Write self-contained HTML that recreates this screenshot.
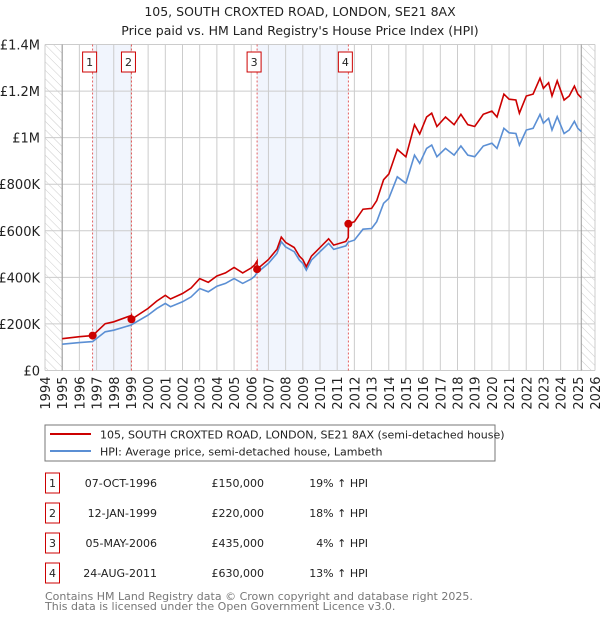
<!DOCTYPE html>
<html><head><meta charset="utf-8"><style>
body{margin:0;background:#fff;font-family:"DejaVu Sans","Liberation Sans",sans-serif;}
</style></head><body>
<svg id="chart" width="600" height="620" xmlns="http://www.w3.org/2000/svg" font-family="DejaVu Sans, Liberation Sans, sans-serif">
<defs><pattern id="hatch" width="6" height="6" patternUnits="userSpaceOnUse" patternTransform="rotate(-45)"><line x1="0" y1="0" x2="0" y2="6" stroke="#ccc" stroke-width="1"/></pattern></defs>
<text x="300" y="16" text-anchor="middle" font-size="12.5" fill="#222">105, SOUTH CROXTED ROAD, LONDON, SE21 8AX</text>
<text x="300" y="35" text-anchor="middle" font-size="12.5" fill="#222">Price paid vs. HM Land Registry's House Price Index (HPI)</text>
<g id="plot"></g>
<rect x="45" y="425" width="450" height="36" fill="#fff" stroke="#777"/>
<line x1="50" y1="434" x2="91" y2="434" stroke="#cc0000" stroke-width="2"/>
<text x="100" y="438.5" font-size="11" fill="#222">105, SOUTH CROXTED ROAD, LONDON, SE21 8AX (semi-detached house)</text>
<line x1="50" y1="451" x2="91" y2="451" stroke="#5b8fd4" stroke-width="2"/>
<text x="100" y="455.5" font-size="11" fill="#222">HPI: Average price, semi-detached house, Lambeth</text>
<g id="table" font-size="11" fill="#222"></g>
<text x="45" y="600" font-size="11" fill="#777">Contains HM Land Registry data © Crown copyright and database right 2025.</text>
<text x="45" y="610" font-size="11" fill="#777">This data is licensed under the Open Government Licence v3.0.</text>
</svg>
<script>
const hpiYears=[1995,1996,1996.77,1997.5,1998,1999,2000,2000.5,2001,2001.3,2002,2002.5,2003,2003.5,2004,2004.5,2005,2005.5,2006,2006.2,2006.34,2007,2007.5,2007.75,2008,2008.5,2008.8,2009,2009.2,2009.5,2010,2010.5,2010.8,2011.5,2011.65,2012,2012.5,2013,2013.3,2013.7,2014,2014.5,2015,2015.5,2015.8,2016.2,2016.5,2016.8,2017.3,2017.8,2018.2,2018.6,2019,2019.5,2020,2020.3,2020.7,2021,2021.4,2021.6,2022,2022.4,2022.8,2023,2023.3,2023.5,2023.8,2024.2,2024.5,2024.8,2025,2025.2];
const hpiValues=[113,120,124,166,173,195,238,266,288,274,295,316,352,338,362,374,395,374,393,405,420,460,503,553,531,510,474,460,431,474,510,546,520,535,552,560,607,610,639,718,739,832,804,925,890,954,968,918,954,925,964,925,918,964,976,954,1040,1021,1018,968,1033,1040,1100,1062,1083,1033,1090,1018,1033,1070,1040,1026];
const saleYears=[1996.77,1999.03,2006.34,2011.65];
const salePrices=[150,220,435,630];
const saleLabels=["1","2","3","4"];
const saleDates=["07-OCT-1996","12-JAN-1999","05-MAY-2006","24-AUG-2011"];
const salePriceText=["£150,000","£220,000","£435,000","£630,000"];
const saleHpiText=["19% ↑ HPI","18% ↑ HPI","4% ↑ HPI","13% ↑ HPI"];
const yTicks=[0,200,400,600,800,1000,1200,1400];
const yTickLabels=["£0","£200K","£400K","£600K","£800K","£1M","£1.2M","£1.4M"];
const xTicks=[1994,1995,1996,1997,1998,1999,2000,2001,2002,2003,2004,2005,2006,2007,2008,2009,2010,2011,2012,2013,2014,2015,2016,2017,2018,2019,2020,2021,2022,2023,2024,2025,2026];

const L=45,R=595,T=44.5,B=370.5;
const X=y=>L+(y-1994)*(R-L)/32;
const Y=v=>B-v*(B-T)/1400;
const NS="http://www.w3.org/2000/svg";
function mk(tag,attrs,parent,text){const e=document.createElementNS(NS,tag);for(const k in attrs)e.setAttribute(k,attrs[k]);if(text!==undefined)e.textContent=text;parent.appendChild(e);return e;}
const g=document.getElementById('plot');
function hpiAt(t){for(let i=0;i<hpiYears.length-1;i++){if(t<=hpiYears[i+1]){const f=(t-hpiYears[i])/(hpiYears[i+1]-hpiYears[i]);return hpiValues[i]+f*(hpiValues[i+1]-hpiValues[i]);}}return hpiValues[hpiValues.length-1];}
for(let i=0;i<saleYears.length;i+=2){
 const b=mk('rect',{x:X(saleYears[i]),y:T,width:X(saleYears[i+1])-X(saleYears[i]),height:B-T,fill:'#eef3fc',opacity:0.8},g);
 
 
}
const h1=mk('rect',{x:L,y:T,width:X(1995)-L,height:B-T,fill:'url(#hatch)'},g);


const h2=mk('rect',{x:X(2025.2),y:T,width:R-X(2025.2),height:B-T,fill:'url(#hatch)'},g);


yTicks.forEach((v,i)=>{
 const l=mk('line',{x1:L,x2:R,y1:Y(v),y2:Y(v),stroke:'#ccc'},g);
 
 
 const t=mk('text',{x:L-5,y:Y(v)+5,'text-anchor':'end','font-size':13,fill:'#222'},g,yTickLabels[i]);
 
 
});
xTicks.forEach(yr=>{
 const l=mk('line',{x1:X(yr),x2:X(yr),y1:T,y2:B,stroke:'#ccc'},g);
 
 
 const t=mk('text',{x:0,y:0,'text-anchor':'end','font-size':13,fill:'#222',transform:`translate(${X(yr)+5},${B+6}) rotate(-90)`},g,String(yr));
 
 
});
const ax1=mk('line',{x1:X(1995),x2:X(1995),y1:T,y2:B,stroke:'#999'},g);


const ax2=mk('line',{x1:X(2025.2),x2:X(2025.2),y1:T,y2:B,stroke:'#999'},g);


saleYears.forEach((s,i)=>{
 const l=mk('line',{x1:X(s),x2:X(s),y1:T,y2:B,stroke:'#e05050','stroke-dasharray':'2,2','stroke-width':0.9},g);
 
 
 const bx=mk('rect',{x:X(s)-10,y:52,width:14,height:20,fill:'#fff',stroke:'#cc0000'},g);
 
 
 const t=mk('text',{x:X(s)-3,y:66,'text-anchor':'middle','font-size':11,fill:'#222'},g,saleLabels[i]);
 
 
});
let d='';hpiYears.forEach((yr,i)=>{d+=(i?'L':'M')+X(yr).toFixed(1)+','+Y(hpiValues[i]).toFixed(1);});
const hp=mk('path',{d:d,fill:'none',stroke:'#5b8fd4','stroke-width':1.6},g);


function propAt(t){let k=0;for(let i=0;i<saleYears.length;i++)if(t>=saleYears[i])k=i;return salePrices[k]*hpiAt(t)/hpiAt(saleYears[k]);}
let pts=hpiYears.concat(saleYears,saleYears.map(s=>s-0.001)).sort((a,b)=>a-b);
let d2='';pts.forEach((t,i)=>{d2+=(i?'L':'M')+X(t).toFixed(1)+','+Y(propAt(t)).toFixed(1);});
const pp=mk('path',{d:d2,fill:'none',stroke:'#cc0000','stroke-width':1.6},g);


saleYears.forEach((s,i)=>{
 const c=mk('circle',{cx:X(s),cy:Y(salePrices[i]),r:4,fill:'#cc0000'},g);
 
 
});
const tb=document.getElementById('table');
saleYears.forEach((s,i)=>{
 const cy=483+i*30;
 const bx=mk('rect',{x:45.5,y:cy-10,width:14,height:20,fill:'none',stroke:'#cc0000'},tb);
 
 
 const a=mk('text',{x:52.5,y:cy+4,'text-anchor':'middle'},tb,saleLabels[i]);
 
 
 const b=mk('text',{x:157,y:cy+4,'text-anchor':'end'},tb,saleDates[i]);
 
 
 const c=mk('text',{x:264,y:cy+4,'text-anchor':'end'},tb,salePriceText[i]);
 
 
 const e=mk('text',{x:368,y:cy+4,'text-anchor':'end'},tb,saleHpiText[i]);
 
 
});
</script>
</body></html>
